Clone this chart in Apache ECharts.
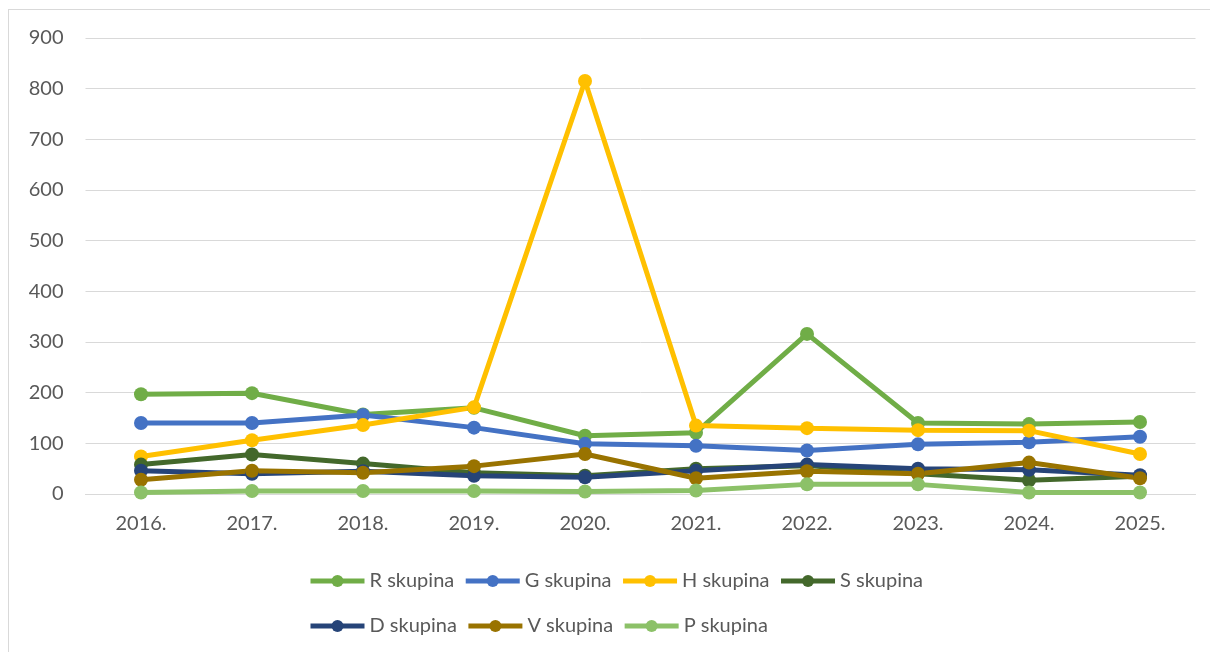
<!DOCTYPE html>
<html>
<head>
<meta charset="utf-8">
<script src="https://cdn.jsdelivr.net/npm/echarts@6/dist/echarts.min.js"></script>
<style>
  html, body { margin: 0; padding: 0; background: #fff; }
  #frame { position: absolute; left: 8px; top: 9px; width: 1220px; height: 660px; border: 1px solid #d9d9d9; box-sizing: border-box; }
  #chart { position: absolute; left: 0; top: 0; width: 1210px; height: 652px; }
</style>
</head>
<body>
<div id="frame"></div>
<div id="chart"></div>
<script>
// godine
const years = ['2016.', '2017.', '2018.', '2019.', '2020.', '2021.', '2022.', '2023.', '2024.', '2025.'];
// vrijednosti po skupinama
const rSkupina = [197, 199, 157, 170, 115, 121, 316, 140, 138, 142];
const gSkupina = [140, 140, 156, 131, 99, 95, 86, 98, 102, 113];
const hSkupina = [74, 106, 136, 171, 815, 135, 130, 126, 125, 79];
const sSkupina = [58, 78, 60, 42, 36, 50, 56, 40, 27, 35];
const dSkupina = [46, 40, 45, 36, 33, 46, 58, 50, 48, 37];
const vSkupina = [28, 46, 42, 55, 79, 31, 45, 40, 62, 31];
const pSkupina = [3, 6, 6, 6, 5, 7, 19, 19, 3, 3];

const names = ['R skupina', 'G skupina', 'H skupina', 'S skupina', 'D skupina', 'V skupina', 'P skupina'];
const values = [rSkupina, gSkupina, hSkupina, sSkupina, dSkupina, vSkupina, pSkupina];
const colors = ['#70AD47', '#4472C4', '#FFC000', '#43682B', '#264478', '#997300', '#8CC168'];

const font = 'Lato, "Open Sans", sans-serif';
const textColor = '#595959';

let chartView = echarts.init(document.getElementById('chart'));

let series = names.map(function (n, i) {
    return {
        name: n,
        type: 'line',
        data: values[i],
        symbol: 'circle',
        symbolSize: 14,
        lineStyle: { width: 5, color: colors[i] },
        itemStyle: { color: colors[i] }
    };
});

let legendCommon = {
    left: 303,
    itemWidth: 54,
    itemHeight: 15,
    itemGap: 9,
    lineStyle: { width: 5 },
    textStyle: { fontFamily: font, fontSize: 20, color: textColor }
};

chartView.setOption({
    backgroundColor: 'transparent',
    animation: false,
    color: colors,
    grid: {
        left: 85.5,
        right: 14.5,
        top: 38,
        bottom: 158
    },
    legend: [
        Object.assign({}, legendCommon, { top: 566, data: names.slice(0, 4) }),
        Object.assign({}, legendCommon, { top: 611, data: names.slice(4) })
    ],
    xAxis: {
        type: 'category',
        boundaryGap: true,
        data: years,
        axisLine: { lineStyle: { color: '#d9d9d9', width: 1 } },
        axisTick: { show: false },
        axisLabel: { color: textColor, fontFamily: font, fontSize: 20, margin: 20 }
    },
    yAxis: {
        type: 'value',
        min: 0,
        max: 900,
        interval: 100,
        axisLine: { show: false },
        axisTick: { show: false },
        splitLine: { lineStyle: { color: '#d9d9d9', width: 1 } },
        axisLabel: { color: textColor, fontFamily: font, fontSize: 20, margin: 22 }
    },
    series: series
});
</script>
</body>
</html>
